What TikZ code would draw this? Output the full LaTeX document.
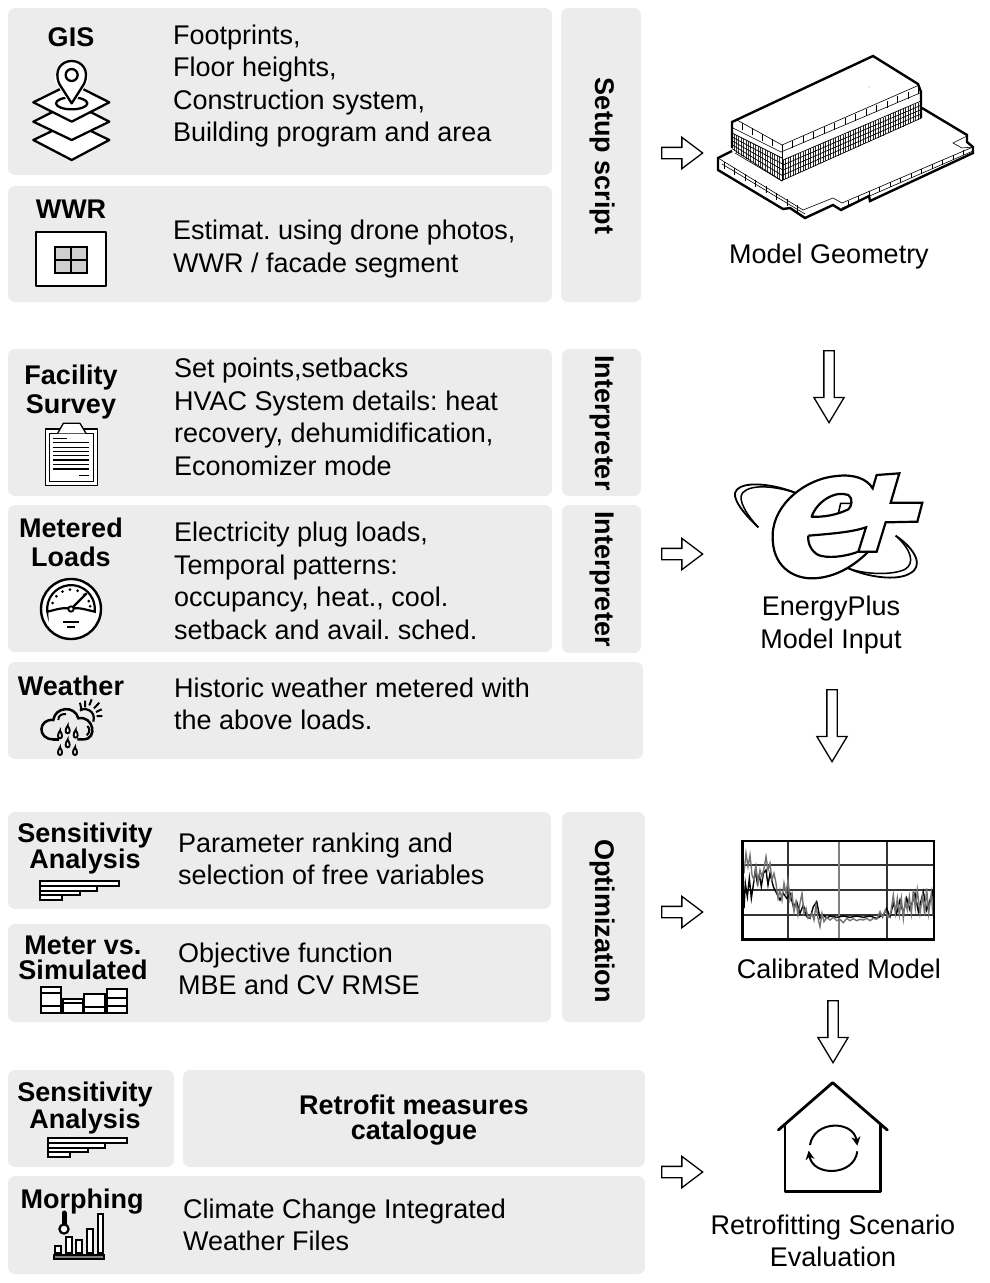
\documentclass[tikz,border=0pt]{standalone}
\usepackage{fontspec}
\setmainfont{Liberation Sans}
\usetikzlibrary{shapes.arrows,arrows.meta}
\AtBeginDocument{\frenchspacing}
\definecolor{boxgray}{HTML}{ECECEC}
\definecolor{wingray}{HTML}{CFCFCF}
\tikzset{
  panel/.style={fill=boxgray,draw=none,rounded corners=7pt},
  bodytxt/.style={anchor=west,align=left,inner sep=0pt,font=\fontsize{27}{32.5}\selectfont},
  lbl/.style={anchor=center,align=center,inner sep=0pt,font=\fontsize{27}{32.5}\selectfont},
  head/.style={anchor=center,align=center,inner sep=0pt,font=\bfseries\fontsize{27}{29}\selectfont},
  headtight/.style={anchor=center,align=center,inner sep=0pt,font=\bfseries\fontsize{27}{25}\selectfont},
  side/.style={anchor=center,rotate=-90,inner sep=0pt,font=\bfseries\fontsize{27}{30}\selectfont},
  rarr/.style={single arrow,draw=black,fill=white,line width=1.3pt,anchor=tail,inner sep=0pt,
    minimum width=30pt,minimum height=41pt,single arrow head extend=10pt,
    single arrow tip angle=74,text width=0pt,text height=5pt,text depth=5pt},
  darr/.style={single arrow,draw=black,fill=white,line width=1.3pt,anchor=tail,inner sep=0pt,
    rotate=-90,minimum width=29pt,single arrow head extend=10pt,
    single arrow tip angle=62,text width=0pt,text height=4.5pt,text depth=4.5pt},
  ic/.style={line width=2.3pt,draw=black,fill=white,line join=round},
  thin/.style={line width=0.6pt},
  thick3/.style={line width=2.4pt,line join=miter},
}
\begin{document}
\begin{tikzpicture}[x=1pt,y=-1pt]
\useasboundingbox (0,0) rectangle (990,1283);
% ---- panels
\path[panel] (8,8) rectangle (552,175);
\path[panel] (8,186) rectangle (552,302);
\path[panel] (561,8) rectangle (641,302);
\path[panel] (8,349) rectangle (552,496);
\path[panel] (562,349) rectangle (641,496);
\path[panel] (8,505) rectangle (552,652);
\path[panel] (562,505) rectangle (641,653);
\path[panel] (8,662) rectangle (643,759);
\path[panel] (8,812) rectangle (551,909);
\path[panel] (8,924) rectangle (551,1022);
\path[panel] (562,812) rectangle (645,1022);
\path[panel] (8,1070) rectangle (174,1167);
\path[panel] (183,1070) rectangle (645,1167);
\path[panel] (8,1176) rectangle (645,1274);
% ---- titles
\node[head] (tgis) at (71,37) {GIS};
\node[head] (twwr) at (71,209) {WWR};
\node[head] (tfac) at (71,392) {Facility\\Survey};
\node[head] (tmet) at (71,542) {Metered\\Loads};
\node[head] (twea) at (71,686) {Weather};
\node[headtight] (tsen) at (85,848.5) {Sensitivity\\Analysis};
\node[headtight] (tmvs) at (83,958) {Meter vs.\\Simulated};
\node[headtight] (tsen2) at (85,1108) {Sensitivity\\Analysis};
\node[headtight] (tret) at (414,1120) {Retrofit measures\\catalogue};
\node[headtight] (tmor) at (82,1202) {Morphing};
% ---- body text
\node[bodytxt] (bgis) at (173,86) {Footprints,\\Floor heights,\\Construction system,\\Building program and area};
\node[bodytxt] (bwwr) at (173,249) {Estimat. using drone photos,\\WWR / facade segment};
\node[bodytxt] (bfac) at (174,417) {Set points,setbacks\\HVAC System details: heat\\recovery, dehumidification,\\Economizer mode};
\node[bodytxt] (bmet) at (174,581) {Electricity plug loads,\\Temporal patterns:\\occupancy, heat., cool.\\setback and avail. sched.};
\node[bodytxt] (bwea) at (174,704) {Historic weather metered with\\the above loads.};
\node[bodytxt] (bsen) at (178,859) {Parameter ranking and\\selection of free variables};
\node[bodytxt] (bmvs) at (178,969) {Objective function\\MBE and CV RMSE};
\node[bodytxt] (bmor) at (183,1225) {Climate Change Integrated\\Weather Files};
% ---- side labels
\node[side] (s1) at (602,156) {Setup script};
\node[side] (s2) at (602,423) {Interpreter};
\node[side] (s3) at (602,579) {Interpreter};
\node[side] (s4) at (602,921) {Optimization};
% ---- right labels
\node[lbl] (rgeo) at (829,257) {Model Geometry};
\node[lbl] (rep) at (831,625) {EnergyPlus\\Model Input};
\node[lbl] (rcal) at (839,969) {Calibrated Model};
\node[lbl] (rret) at (833,1241) {Retrofitting Scenario\\Evaluation};
% ---- block arrows
\node[rarr] (a1) at (661,153) {};
\node[rarr] (a2) at (661,554) {};
\node[rarr] (a3) at (661,912) {};
\node[rarr] (a4) at (661,1172) {};
\node[darr,minimum height=72pt] (d1) at (829,350) {};
\node[darr,minimum height=72pt] (d2) at (832,689) {};
\node[darr,minimum height=62pt] (d3) at (833,1000) {};
% ---- GIS icon
\begin{scope}[shift={(20,60)},scale=1/3]
  \draw[ic] (40,240)--(155,185)--(268,240)--(155,300)--cycle;
  \draw[ic] (40,185)--(155,127)--(268,185)--(155,240)--cycle;
  \draw[ic] (40,127)--(155,70)--(268,127)--(155,185)--cycle;
  \draw[ic] (155,130) ellipse[x radius=47,y radius=18];
  \draw[line width=5pt,white] (155,130) -- (112,60) arc[start angle=180,end angle=360,radius=43] -- cycle;
  \draw[ic] (155,130) -- (118,72) .. controls (100,30) and (125,3) .. (155,3) .. controls (185,3) and (210,30) .. (192,72) -- cycle;
  \draw[ic] (155,45) circle[radius=18];
\end{scope}
% ---- WWR icon
\draw[ic,line width=2.5pt] (36,232) rectangle (106,286);
\draw[line width=2pt,fill=wingray] (55,247) rectangle (87,273);
\draw[line width=2pt] (71,247)--(71,273) (55,260)--(87,260);
% ---- clipboard
\begin{scope}[shift={(0,410)},scale=1/3]
  \draw[ic,line width=1.3pt] (136,57) rectangle (292,226);
  \draw[ic,line width=1pt] (148,70) rectangle (280,214);
  \draw[ic,line width=1.3pt] (173,70)--(190,40)--(240,40)--(258,70);
  \draw[line width=1.2pt] (160,85)--(200,85);
  \foreach \ly in {98,112,124,137,150,163,177} \draw[line width=1.2pt] (160,\ly)--(268,\ly);
  \draw[line width=1.2pt] (238,197)--(268,197);
\end{scope}
% ---- gauge
\begin{scope}[shift={(0,410)},scale=1/3]
  \draw[line width=2.4pt,fill=white] (213,597) circle[radius=90];
  \draw[line width=2.2pt] (142,605) arc[start angle=173.5,end angle=366.5,radius=71.5] .. controls (260,600) and (235,590) .. (213,597) .. controls (190,590) and (165,600) .. cycle;
  \foreach \ang in {198,221,244,267,290,313,336,352} \fill ({213+58*cos(\ang)},{597+58*sin(\ang)}) circle[radius=4.5];
  \draw[line width=2.2pt] (213,597)--(260,550);
  \draw[line width=1.8pt,fill=white] (213,597) circle[radius=8];
  \draw[line width=2.2pt] (190,635)--(238,635) (202,650)--(225,650);
\end{scope}
% ---- weather
\begin{scope}[shift={(30,690)},scale=1/3]
  \draw[line width=2pt] (155,62) -- (150,38) (165,52)--(165,32) (178,46)--(185,28) (192,55)--(208,38) (198,66)--(215,58) (200,78)--(217,78);
  \draw[line width=2.5pt] (70,148) .. controls (20,148) and (25,85) .. (70,90) .. controls (75,50) and (135,45) .. (145,85) .. controls (190,75) and (205,148) .. (160,148) -- (142,148);
  \draw[line width=2.5pt] (70,148)--(88,148);
  \draw[line width=2.2pt] (150,62) .. controls (160,50) and (200,60) .. (190,95);
  \draw[line width=2pt] (85,90) .. controls (85,75) and (95,72) .. (108,72);
  \draw[line width=2pt] (172,108) .. controls (180,115) and (180,128) .. (170,136);
  \foreach \dx/\dy in {90/135,113/120,137/133,113/162,90/185,135/185}
    \draw[line width=1.9pt,fill=white,shift={(\dx,\dy)}] (0,-13) .. controls (-8,-2) and (-8,10) .. (0,10) .. controls (8,10) and (8,-2) .. cycle;
\end{scope}
% ---- sensitivity bars
\foreach \sx/\sy in {0/0,8/257}{
  \begin{scope}[shift={(\sx,\sy)}]
    \draw[line width=1.5pt,fill=white] (40,881) rectangle (119,886);
    \draw[line width=1.5pt,fill=white] (40,886) rectangle (97,891);
    \draw[line width=1.5pt,fill=white] (40,891) rectangle (80,895);
    \draw[line width=1.5pt,fill=white] (40,895) rectangle (62,900);
  \end{scope}
}
% ---- meter vs simulated
\draw[line width=1.6pt,fill=white] (41,987) rectangle (61,1013);
\draw[line width=1.6pt] (41,993)--(61,993) (41,1006)--(61,1006);
\draw[line width=1.6pt,fill=white] (63,999) rectangle (83,1013);
\draw[line width=1.6pt] (63,1003)--(83,1003);
\draw[line width=1.6pt,fill=white] (84,994) rectangle (105,1013);
\draw[line width=1.6pt] (84,1007)--(105,1007);
\draw[line width=1.6pt,fill=white] (107,989) rectangle (127,1013);
\draw[line width=1.6pt] (107,998)--(127,998) (107,1006)--(127,1006);
% ---- morphing
\draw[line width=5pt,line cap=round] (64,1213)--(64,1226);
\draw[line width=2.2pt,fill=white] (64,1229) circle[radius=4.6];
\foreach \ax/\ay/\bx in {55/1246/61,66/1237/72,76/1240/82,87/1229/93,98/1214/103}
  \draw[line width=1.5pt,fill=white] (\ax,\ay) rectangle (\bx,1253);
\draw[line width=1.5pt,fill=gray] (54,1255) rectangle (104,1259);
% ---- building
\fill[white] (718,158)--(732,151)--(732,122)--(873,56)--(918,84)--(921,92)--(922,108)--(967,135)--(967,142)--(973,147)--(973,153)--(870,201)--(841,210)--(805,218)--(790,208)--(718,170)--cycle;
% podium top details
\draw[thin] (718,158)--(803,210)--(833,198)--(842,203)--(973,147);
\draw[thin] (967,136)--(953,143)--(962,148)--(973,147);
\draw[thin] (722,164)--(805,214);
\draw[thin] (842,208)--(973,151);
\foreach \k in {0,...,7} \draw[thin] ({724+\k*10.5},{162+\k*6.1})--({724+\k*10.5},{169+\k*6.1});
\foreach \k in {0,...,11} \draw[thin] ({848+\k*10.5},{200.5-\k*4.55})--({848+\k*10.5},{205.5-\k*4.55});
% podium outline
\draw[thick3] (732,151)--(718,158)--(718,170)--(783,209)--(790,208)--(805,218)--(833,205)--(841,210)--(869,196)--(870,201)--(973,153)--(973,147)--(967,142)--(967,135)--(922,108);
% roof and walls
\fill[white] (732,122)--(873,56)--(918,84)--(921,92)--(921,118)--(782,181)--(732,148)--cycle;
% window bands
\foreach \k in {0,...,55}
  \draw[line width=0.65pt,black!85] ({783+\k*2.5},{160-\k*2.5*0.424})--({783+\k*2.5},{180-\k*2.5*0.445});
\foreach \k in {0,...,4}
  \draw[line width=0.7pt] (783,{160+\k*5}) -- (921,{101+\k*4.3});
\foreach \k in {0,...,20}
  \draw[line width=0.65pt,black!80] ({782-\k*2.4},{158-\k*2.4*0.5})--({782-\k*2.4},{181-\k*2.4*0.62});
\foreach \k in {0,...,4}
  \draw[line width=0.7pt] (782,{158+\k*5.75}) -- (732,{133+\k*3.9});
% parapet
\draw[thin] (737,120)--(782,145)--(917,86);
\draw[thin] (733,128)--(781,152)--(920,93);
\draw[thin] (782,145)--(782,181);
\foreach \k in {1,...,13} \draw[thin] ({782+\k*10.5},{145-\k*4.45})--({782+\k*10.5},{152-\k*4.45});
\foreach \k in {1,...,4} \draw[thin] ({782-\k*10},{145-\k*5.6})--({782-\k*10},{152-\k*5.6});
\fill (869,87) circle[radius=0.4];
\draw[thin] (782,181)--(735,153);
\draw[thick3] (732,148)--(732,122)--(873,56)--(918,84)--(921,92)--(921,118);
% ---- EnergyPlus logo
\begin{scope}[shift={(720,470)},scale=1/3]
  \draw[line width=1.8pt] (115,172) .. controls (70,130) and (30,80) .. (50,60) .. controls (75,30) and (170,45) .. (225,68);
  \draw[line width=1.5pt] (115,172) .. controls (85,140) and (50,90) .. (68,68) .. controls (95,40) and (170,50) .. (225,68);
  \draw[line width=1.8pt] (527,197) .. controls (590,240) and (610,290) .. (570,310) .. controls (530,335) and (440,320) .. (385,295);
  \draw[line width=1.5pt] (527,197) .. controls (575,240) and (585,280) .. (555,298) .. controls (520,315) and (440,315) .. (385,295);
  \draw[line width=2.2pt,fill=white,line join=miter] (470,15)--(538,10)--(512,98)--(607,98)--(592,155)--(497,157)--(470,245)--(445,245) .. controls (390,300) and (330,325) .. (275,325) .. controls (220,325) and (155,290) .. (158,195) .. controls (160,100) and (260,25) .. (350,18) .. controls (400,12) and (440,25) .. (458,55) -- cycle;
  \draw[line width=2.2pt,line join=miter] (265,197) .. controls (350,190) and (400,185) .. (438,172) -- (415,245) -- (445,245);
  \draw[line width=2.2pt] (415,245) .. controls (370,262) and (320,265) .. (295,255) .. controls (275,245) and (262,220) .. (265,197);
  \draw[line width=2.2pt,line join=round] (275,140) .. controls (290,95) and (345,60) .. (385,75) .. controls (400,85) and (395,110) .. (385,118) .. controls (350,135) and (310,142) .. (275,140) -- cycle;
  \draw[line width=1.6pt] (395,100)--(362,100)--(355,130);
\end{scope}
% ---- calibrated chart
\begin{scope}[shift={(730,830)},scale=1/3]
  \fill[white] (38,33) rectangle (612,328);
  \draw[line width=1.7pt,black!80] (38,106)--(612,106) (38,180)--(612,180) (38,255)--(612,255);
  \draw[line width=1.7pt,black!80] (175,33)--(175,328) (470,33)--(470,328);
  \draw[line width=1.9pt,gray] (327,33)--(327,328);
  \draw[line width=1.4pt,black] (42,235)--(46,160)--(52,200)--(58,145)--(64,205)--(70,165)--(76,120)--(82,160)--(88,135)--(94,170)--(100,130)--(108,120)--(114,165)--(120,130)--(130,170)--(140,190)--(150,210)--(160,190)--(170,205)--(180,190)--(190,230)--(200,215)--(210,250)--(220,225)--(230,260)--(240,265)--(250,230)--(260,215)--(270,265)--(280,255)--(290,265)--(300,258)--(320,262)--(340,258)--(360,262)--(380,258)--(400,262)--(420,258)--(440,265)--(460,255)--(470,235)--(480,260)--(490,220)--(500,250)--(510,210)--(520,250)--(530,205)--(540,240)--(555,190)--(565,245)--(580,185)--(590,240)--(600,210)--(608,185)--(612,240);
  \draw[line width=1.4pt,black!55] (42,130)--(48,70)--(54,110)--(60,75)--(66,135)--(72,150)--(78,110)--(84,160)--(90,120)--(96,140)--(102,115)--(108,80)--(114,120)--(120,100)--(126,150)--(132,130)--(138,160)--(144,205)--(150,180)--(156,210)--(162,160)--(168,190)--(174,150)--(180,210)--(186,190)--(192,245)--(198,215)--(204,255)--(210,220)--(216,190)--(222,250)--(228,235)--(234,265)--(240,262)--(246,250)--(252,270)--(258,225)--(264,265)--(270,290)--(276,250)--(282,275)--(290,262)--(300,270)--(310,262)--(320,272)--(330,268)--(340,278)--(350,265)--(360,272)--(370,266)--(380,272)--(390,268)--(400,270)--(410,265)--(420,272)--(430,265)--(440,268)--(450,245)--(458,262)--(466,240)--(474,262)--(482,250)--(490,195)--(496,250)--(502,205)--(508,255)--(514,205)--(520,265)--(526,210)--(532,240)--(538,200)--(544,250)--(550,180)--(556,235)--(562,180)--(570,250)--(578,195)--(584,255)--(590,175)--(596,250)--(604,190)--(608,245)--(612,230);
  \draw[line width=2.8pt] (38,33) rectangle (612,328);
\end{scope}
% ---- house
\begin{scope}[shift={(650,990)},scale=1/3]
  \draw[line width=2.8pt,line cap=round,line join=round] (385,420)--(548,278)--(712,420);
  \draw[line width=2.8pt,line cap=round,line join=round] (405,405)--(405,605)--(692,605)--(692,405);
  \draw[line width=2pt,-{Stealth[length=9pt,width=9pt]}] (480,465) .. controls (492,390) and (610,390) .. (622,467);
  \draw[line width=2pt,-{Stealth[length=9pt,width=9pt]}] (622,484) .. controls (612,560) and (488,560) .. (476,482);
\end{scope}
\end{tikzpicture}
\end{document}
